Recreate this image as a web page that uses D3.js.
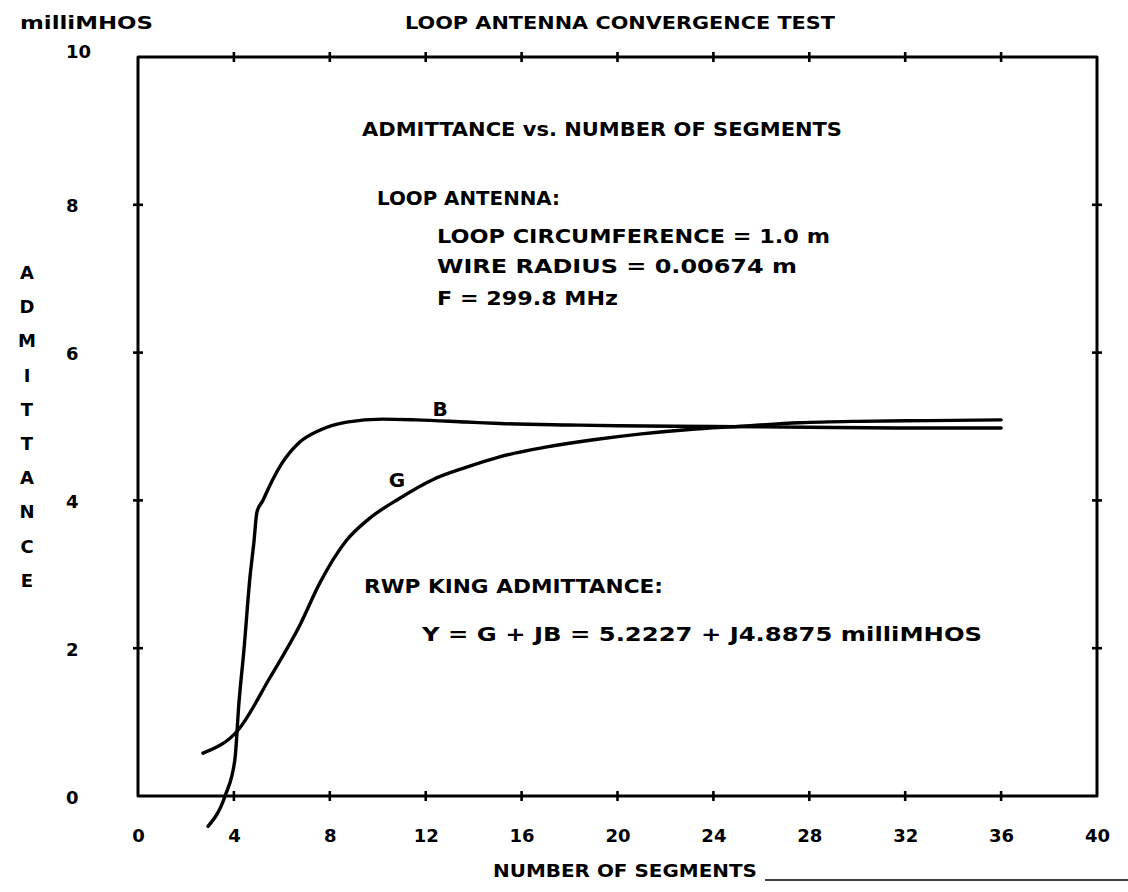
<!DOCTYPE html>
<html>
<head>
<meta charset="utf-8">
<script src="https://cdn.jsdelivr.net/npm/d3@7/dist/d3.min.js"></script>
<style>
  html, body { margin: 0; padding: 0; background: #fff; }
  svg text { font-family: "DejaVu Sans", "Liberation Sans", sans-serif; font-weight: bold; fill: #000; }
</style>
</head>
<body>
<svg id="chart" width="1128" height="892"></svg>
<script>
// ---- data ----
const xTicks = [0, 4, 8, 12, 16, 20, 24, 28, 32, 36, 40];
const xTickLabels = ["0", "4", "8", "12", "16", "20", "24", "28", "32", "36", "40"];
const yTicks = [0, 2, 4, 6, 8, 10];
const yTickLabels = ["0", "2", "4", "6", "8", "10"];

// B (susceptance) vs number of segments
const segB = [2.92, 3.63, 4.04, 4.21, 4.42, 4.67, 4.83, 4.96, 5.21, 5.6, 6.0, 6.75, 7.58, 8.7, 10.2, 11.6, 13.7, 15.1, 18, 20, 24, 28, 32, 36];
const valB = [-0.41, 0.0, 0.49, 1.26, 1.98, 2.96, 3.42, 3.84, 4.0, 4.27, 4.5, 4.79, 4.95, 5.06, 5.1, 5.09, 5.06, 5.04, 5.02, 5.01, 5.0, 4.99, 4.98, 4.98];

// G (conductance) vs number of segments
const segG = [2.71, 4.17, 5.5, 6.75, 7.58, 8.7, 9.67, 10.92, 12.29, 13.71, 15.08, 17, 19, 21, 23, 25, 27.6, 30, 33, 36];
const valG = [0.58, 0.89, 1.6, 2.31, 2.88, 3.46, 3.76, 4.03, 4.28, 4.45, 4.59, 4.72, 4.82, 4.9, 4.96, 5.0, 5.05, 5.07, 5.08, 5.09];

const yAxisLetters = ["A", "D", "M", "I", "T", "T", "A", "N", "C", "E"];

// ---- drawing ----
const svg = d3.select("#chart");
svg.append("rect").attr("width", 1128).attr("height", 892).attr("fill", "#fff");

const x = d3.scaleLinear().domain([0, 40]).range([138, 1097]);
const y = d3.scaleLinear().domain([0, 10]).range([796, 57]);

// frame
svg.append("rect")
  .attr("x", x(0)).attr("y", y(10))
  .attr("width", x(40) - x(0)).attr("height", y(0) - y(10))
  .attr("fill", "none").attr("stroke", "#000").attr("stroke-width", 3)
  .attr("stroke-linejoin", "round");

// tick crosses on all sides
const tk = 5;
const innerX = xTicks.filter(d => d > 0 && d < 40);
const innerY = yTicks.filter(d => d > 0 && d < 10);
const tg = svg.append("g").attr("stroke", "#000").attr("stroke-width", 2.6);
tg.selectAll(".tb").data(innerX).join("line").attr("class", "tb")
  .attr("x1", d => x(d)).attr("x2", d => x(d))
  .attr("y1", y(0) - tk).attr("y2", y(0) + tk);
tg.selectAll(".tt").data(innerX).join("line").attr("class", "tt")
  .attr("x1", d => x(d)).attr("x2", d => x(d))
  .attr("y1", y(10) - tk).attr("y2", y(10) + tk);
tg.selectAll(".tl").data(innerY).join("line").attr("class", "tl")
  .attr("y1", d => y(d)).attr("y2", d => y(d))
  .attr("x1", x(0) - tk).attr("x2", x(0) + tk);
tg.selectAll(".tr").data(innerY).join("line").attr("class", "tr")
  .attr("y1", d => y(d)).attr("y2", d => y(d))
  .attr("x1", x(40) - tk).attr("x2", x(40) + tk);

// x axis labels via d3 axis
const gx = svg.append("g").attr("transform", `translate(0,${y(0)})`)
  .call(d3.axisBottom(x).tickValues(xTicks).tickSize(0).tickPadding(0)
    .tickFormat((d, i) => xTickLabels[i]));
gx.select(".domain").remove();
gx.selectAll("text").attr("y", 46).attr("dy", 0)
  .style("font-size", "18px").style("font-family", "DejaVu Sans").style("font-weight", "bold");

// y axis labels via d3 axis
const gy = svg.append("g").attr("transform", `translate(66,0)`)
  .call(d3.axisLeft(y).tickValues(yTicks).tickSize(0).tickPadding(0)
    .tickFormat((d, i) => yTickLabels[i]));
gy.select(".domain").remove();
gy.selectAll("text").attr("x", 0).attr("dy", d => d === 10 ? 0 : 7).attr("text-anchor", "start")
  .style("font-size", "18px").style("font-family", "DejaVu Sans").style("font-weight", "bold");

// curves
const line = d3.line().x(d => x(d[0])).y(d => y(d[1])).curve(d3.curveMonotoneX);
const ptsB = segB.map((s, i) => [s, valB[i]]);
const ptsG = segG.map((s, i) => [s, valG[i]]);
svg.append("path").attr("d", line(ptsB)).attr("fill", "none")
  .attr("stroke", "#000").attr("stroke-width", 3.4).attr("stroke-linecap", "round");
svg.append("path").attr("d", line(ptsG)).attr("fill", "none")
  .attr("stroke", "#000").attr("stroke-width", 3.4).attr("stroke-linecap", "round");

// text helper
function txt(s, xx, yy, size, len, anchor) {
  const t = svg.append("text").attr("x", xx).attr("y", yy)
    .style("font-size", size + "px").text(s);
  if (len) t.attr("textLength", len).attr("lengthAdjust", "spacingAndGlyphs");
  if (anchor) t.attr("text-anchor", anchor);
  return t;
}

txt("milliMHOS", 20, 29, 18, 133);
txt("LOOP ANTENNA CONVERGENCE TEST", 405, 29, 18, 430);

txt("ADMITTANCE vs. NUMBER OF SEGMENTS", 362, 136, 20, 480);
txt("LOOP ANTENNA:", 377, 205, 20, 183);
txt("LOOP CIRCUMFERENCE = 1.0 m", 437, 243, 20, 393);
txt("WIRE RADIUS = 0.00674 m", 437, 273, 20, 360);
txt("F = 299.8 MHz", 437, 305, 20, 181);

txt("B", 440, 416, 20, null, "middle");
txt("G", 397, 487, 20, null, "middle");

txt("RWP KING ADMITTANCE:", 364, 593, 20, 299);
txt("Y = G + JB = 5.2227 + J4.8875 milliMHOS", 422, 641, 20, 560);

txt("NUMBER OF SEGMENTS", 493, 877, 18, 264);

// vertical y-axis title letters
svg.append("g").selectAll("text").data(yAxisLetters).join("text")
  .attr("x", 27).attr("y", (d, i) => 272 + i * 34.2 + 7)
  .attr("text-anchor", "middle").style("font-size", "18px")
  .text(d => d);

// trailing rule after the x-axis title
svg.append("line").attr("x1", 765).attr("x2", 1128).attr("y1", 880).attr("y2", 880)
  .attr("stroke", "#000").attr("stroke-width", 1.5);
</script>
</body>
</html>
